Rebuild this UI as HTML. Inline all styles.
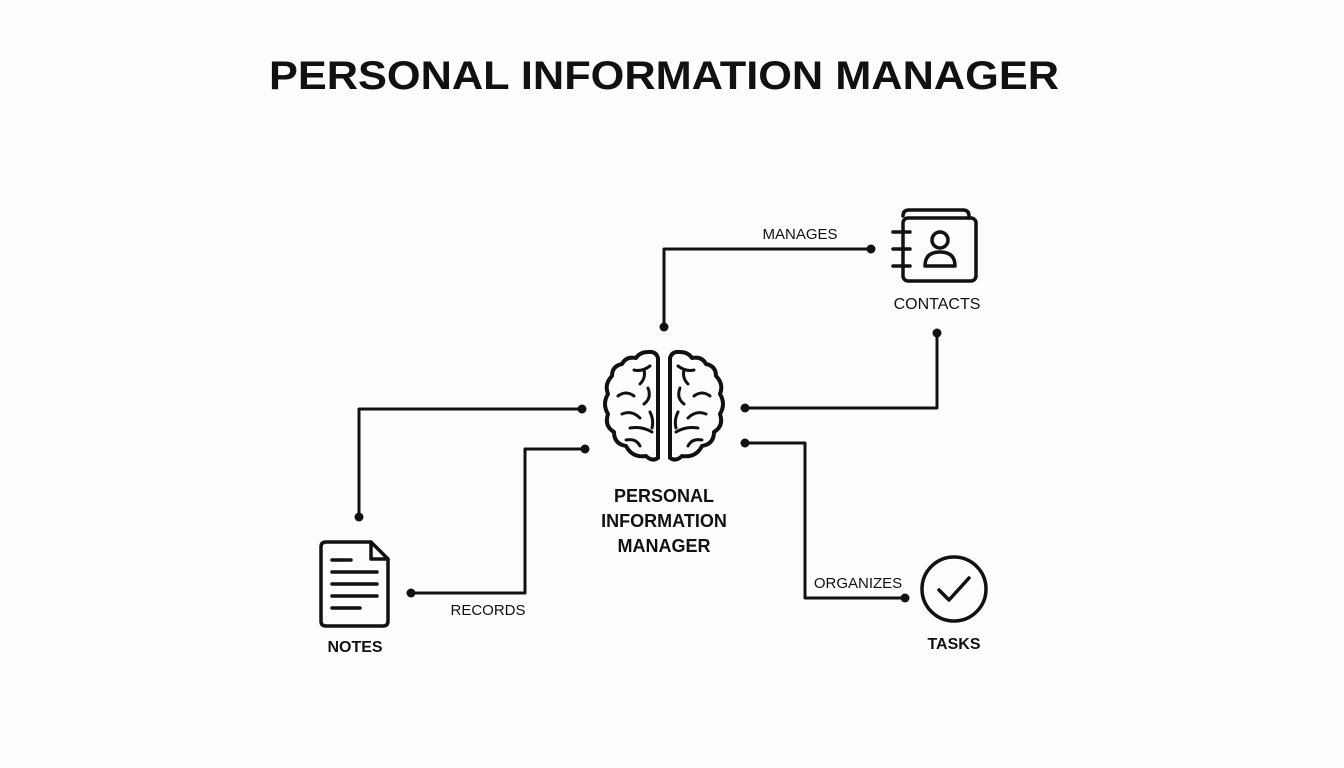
<!DOCTYPE html>
<html><head><meta charset="utf-8"><style>
html,body{margin:0;padding:0;background:#fdfdfd;}
svg{display:block;}
text{font-family:"Liberation Sans",sans-serif;fill:#111;}
</style></head><body>
<svg width="1344" height="768" viewBox="0 0 1344 768" xmlns="http://www.w3.org/2000/svg">
<rect width="1344" height="768" fill="#fdfdfd"/>
<text x="664" y="89" font-size="40" font-weight="bold" text-anchor="middle" textLength="790" lengthAdjust="spacingAndGlyphs">PERSONAL INFORMATION MANAGER</text>

<g fill="none" stroke="#111" stroke-width="3" stroke-linejoin="round">
<polyline points="664,327 664,249 871,249"/>
<polyline points="937,333 937,408 745,408"/>
<polyline points="359,517 359,409 582,409"/>
<polyline points="411,593 525,593 525,449 585,449"/>
<polyline points="745,443 805,443 805,598 905,598"/>
</g>
<g fill="#111">
<circle cx="664" cy="327" r="4.5"/><circle cx="871" cy="249" r="4.5"/>
<circle cx="937" cy="333" r="4.5"/><circle cx="745" cy="408" r="4.5"/>
<circle cx="359" cy="517" r="4.5"/><circle cx="582" cy="409" r="4.5"/>
<circle cx="411" cy="593" r="4.5"/><circle cx="585" cy="449" r="4.5"/>
<circle cx="745" cy="443" r="4.5"/><circle cx="905" cy="598" r="4.5"/>
</g>
<text x="800" y="239" font-size="15" text-anchor="middle">MANAGES</text>
<text x="488" y="615" font-size="15" text-anchor="middle">RECORDS</text>
<text x="858" y="588" font-size="15" text-anchor="middle">ORGANIZES</text>

<!-- brain -->
<g fill="none" stroke="#111" stroke-width="4" stroke-linecap="round" stroke-linejoin="round">
<path d="M658,358 Q656,351 648,352 Q640,352 636,358 Q626,356 622,364 Q612,366 612,376 Q604,384 608,394 Q602,404 608,414 Q604,426 614,432 Q614,444 626,446 Q632,458 646,456 Q652,462 658,458 Z"/>
<path d="M670,358 Q672,351 680,352 Q688,352 692,358 Q702,356 706,364 Q716,366 716,376 Q724,384 720,394 Q726,404 720,414 Q724,426 714,432 Q714,444 702,446 Q696,458 682,456 Q676,462 670,458 Z"/>
<g stroke-width="3">
<path d="M650,366 Q642,372 634,370 M644,370 Q646,378 640,384 M618,396 Q626,390 634,396 M648,388 Q652,398 644,404 M622,414 Q632,410 640,418 M630,428 Q642,426 652,432 M626,440 Q636,438 640,446 M650,412 Q654,420 652,428"/>
<path d="M678,366 Q686,372 694,370 M684,370 Q682,378 688,384 M710,396 Q702,390 694,396 M680,388 Q676,398 684,404 M706,414 Q696,410 688,418 M698,428 Q686,426 676,432 M702,440 Q692,438 688,446 M678,412 Q674,420 676,428"/>
</g>
</g>
<text x="664" y="502" font-size="18" font-weight="bold" text-anchor="middle">PERSONAL</text>
<text x="664" y="527" font-size="18" font-weight="bold" text-anchor="middle">INFORMATION</text>
<text x="664" y="552" font-size="18" font-weight="bold" text-anchor="middle">MANAGER</text>

<!-- contacts -->
<g fill="none" stroke="#111" stroke-width="3.5" stroke-linecap="round" stroke-linejoin="round">
<path d="M903,216 Q903,210 909,210 L963,210 Q969,210 969,216 L969,218"/>
<rect x="903" y="218" width="73" height="63" rx="5"/>
<line x1="893" y1="232" x2="910" y2="232"/><line x1="893" y1="249" x2="910" y2="249"/><line x1="893" y1="266" x2="910" y2="266"/>
<circle cx="940" cy="240" r="8"/>
<path d="M925,266 Q925,252 940,252 Q955,252 955,266 Z"/>
</g>
<text x="937" y="309" font-size="16" text-anchor="middle">CONTACTS</text>

<!-- notes -->
<g fill="none" stroke="#111" stroke-width="3.5" stroke-linecap="round" stroke-linejoin="round">
<path d="M326,542 L371,542 L388,559 L388,621 Q388,626 383,626 L326,626 Q321,626 321,621 L321,547 Q321,542 326,542 Z"/>
<path d="M371,542 L371,559 L388,559"/>
<line x1="332" y1="560" x2="351" y2="560"/><line x1="332" y1="572" x2="377" y2="572"/><line x1="332" y1="584" x2="377" y2="584"/><line x1="332" y1="596" x2="377" y2="596"/><line x1="332" y1="608" x2="360" y2="608"/>
</g>
<text x="355" y="652" font-size="16" font-weight="bold" text-anchor="middle">NOTES</text>

<!-- tasks -->
<g fill="none" stroke="#111" stroke-width="3.5" stroke-linecap="round" stroke-linejoin="round">
<circle cx="954" cy="589" r="32"/>
<polyline points="939,590 949,600 969,578"/>
</g>
<text x="954" y="649" font-size="16" font-weight="bold" text-anchor="middle">TASKS</text>
</svg>
</body></html>
